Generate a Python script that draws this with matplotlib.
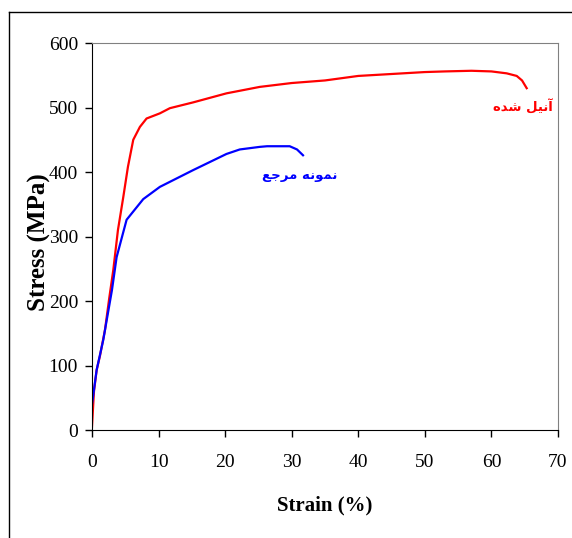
import matplotlib
matplotlib.use("Agg")
import matplotlib.pyplot as plt
from matplotlib.lines import Line2D

# stress-strain readings (strain %, stress MPa)
annealed_strain = [0.0, 0.3, 0.7, 1.2, 1.95, 2.6, 3.2, 3.9, 4.7, 5.4, 6.2, 7.2, 8.2,
                   10.2, 11.7, 15.2, 20.2, 25.2, 30.0, 35.0, 40.0, 45.0, 50.0, 53.0,
                   57.0, 60.0, 62.3, 63.8, 64.6, 65.3]
annealed_stress = [5, 60, 93, 115, 155, 205, 248, 310, 361, 408, 450, 470, 483,
                   491, 499, 508, 522, 532, 538, 542, 549, 552, 555, 556,
                   557, 556, 553, 549, 542, 530]

reference_strain = [0.0, 0.15, 0.7, 1.7, 3.0, 3.7, 4.5, 5.2, 7.7, 10.2, 15.2, 20.2,
                    22.2, 25.2, 26.3, 29.7, 30.8, 31.7]
reference_stress = [40, 51, 93, 140, 217, 268, 299, 326, 358, 377, 403, 428,
                    435, 439, 440, 440, 435, 426]

annealed_label = "آنیل شده"
reference_label = "نمونه مرجع"

x_ticks = [0, 10, 20, 30, 40, 50, 60, 70]
y_ticks = [0, 100, 200, 300, 400, 500, 600]

# matplotlib has no Arabic shaping: map letters to presentation forms
# (isolated, final, initial, medial); None = letter does not join forward
FORMS = {
    "آ": (0xFE81, 0xFE82, None, None),
    "ن": (0xFEE5, 0xFEE6, 0xFEE7, 0xFEE8),
    "ی": (0xFBFC, 0xFBFD, 0xFBFE, 0xFBFF),
    "ل": (0xFEDD, 0xFEDE, 0xFEDF, 0xFEE0),
    "ش": (0xFEB5, 0xFEB6, 0xFEB7, 0xFEB8),
    "د": (0xFEA9, 0xFEAA, None, None),
    "ه": (0xFEE9, 0xFEEA, 0xFEEB, 0xFEEC),
    "م": (0xFEE1, 0xFEE2, 0xFEE3, 0xFEE4),
    "و": (0xFEED, 0xFEEE, None, None),
    "ر": (0xFEAD, 0xFEAE, None, None),
    "ج": (0xFE9D, 0xFE9E, 0xFE9F, 0xFEA0),
    "ع": (0xFEC9, 0xFECA, 0xFECB, 0xFECC),
}


def shape_rtl(text):
    out = []
    for i, ch in enumerate(text):
        if ch not in FORMS:
            out.append(ch)
            continue
        prev = text[i - 1] if i > 0 else " "
        nxt = text[i + 1] if i + 1 < len(text) else " "
        joins_prev = prev in FORMS and FORMS[prev][2] is not None
        joins_next = nxt in FORMS and FORMS[ch][2] is not None
        iso, fin, ini, med = FORMS[ch]
        if joins_prev and joins_next:
            code = med
        elif joins_prev:
            code = fin
        elif joins_next:
            code = ini
        else:
            code = iso
        out.append(chr(code))
    return "".join(reversed(out))


plt.rcParams["font.family"] = ["Liberation Serif", "DejaVu Sans"]

fig = plt.figure(figsize=(5.72, 5.38), dpi=100)
ax = fig.add_axes([0.1608, 0.2007, 0.8147, 0.7193])

ax.plot(annealed_strain, annealed_stress, color="#ff0000", lw=1.6)
ax.plot(reference_strain, reference_stress, color="#0000ff", lw=1.6)

ax.text(64.7, 501, shape_rtl(annealed_label), color="#ff0000", fontsize=9.5,
        fontweight="bold", ha="center", va="center", family=["DejaVu Sans"])
ax.text(31.2, 395, shape_rtl(reference_label), color="#0000ff", fontsize=9.5,
        fontweight="bold", ha="center", va="center", family=["DejaVu Sans"])

ax.set_xlim(0, 70)
ax.set_ylim(0, 600)
ax.set_xticks(x_ticks)
ax.set_yticks(y_ticks)
ax.tick_params(direction="out", length=5, width=1, labelsize=14)
ax.tick_params(axis="x", pad=12)
ax.tick_params(axis="y", pad=5)
for side in ("top", "right"):
    ax.spines[side].set_color("#808080")

ax.set_xlabel("Strain (%)", fontsize=15, fontweight="bold", va="top")
ax.xaxis.set_label_coords(0.5, -0.170)
ax.set_ylabel("Stress (MPa)", fontsize=18, fontweight="bold")
ax.yaxis.set_label_coords(-0.088, 0.486)

# outer frame (top and left edges visible)
fig.add_artist(Line2D([9 / 572, 1.0], [1 - 12 / 538, 1 - 12 / 538],
                      transform=fig.transFigure, color="black", lw=1))
fig.add_artist(Line2D([9 / 572, 9 / 572], [0.0, 1 - 12 / 538],
                      transform=fig.transFigure, color="black", lw=1))

fig.savefig("out.png", dpi=100)
